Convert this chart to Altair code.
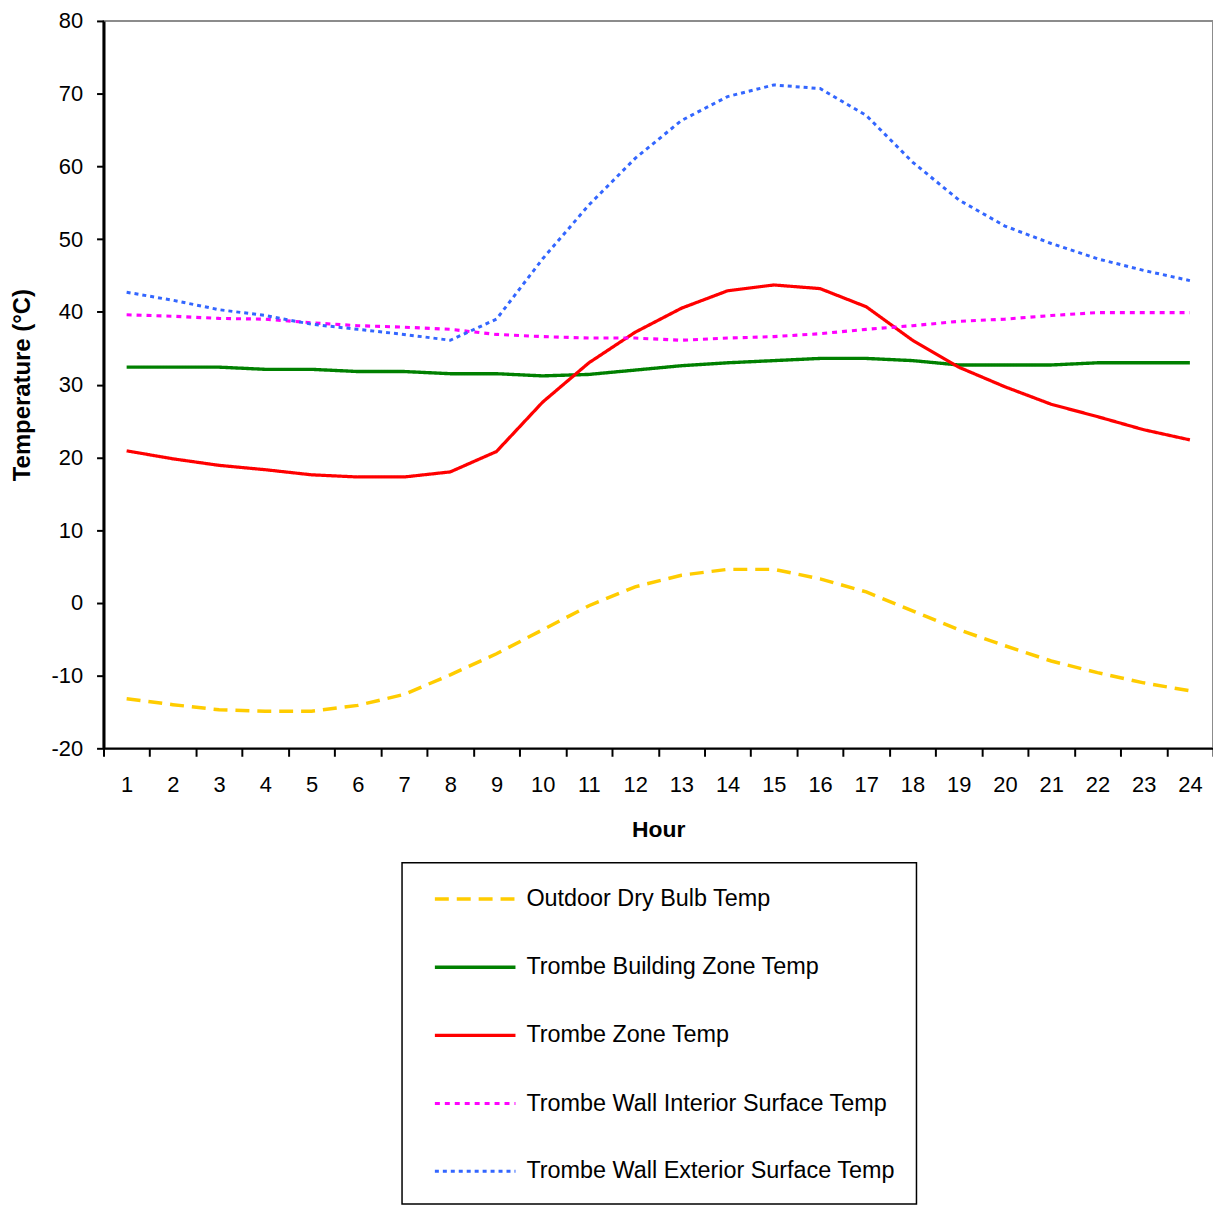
import altair as alt
import pandas as pd

hours = list(range(1, 25))
series_names = [
    "Outdoor Dry Bulb Temp",
    "Trombe Building Zone Temp",
    "Trombe Zone Temp",
    "Trombe Wall Interior Surface Temp",
    "Trombe Wall Exterior Surface Temp",
]
outdoor = [-13.2, -14.0, -14.7, -14.9, -14.9, -14.1, -12.6, -9.9, -7.0, -3.7, -0.4, 2.2,
           3.8, 4.6, 4.6, 3.3, 1.5, -1.1, -3.7, -5.9, -8.0, -9.6, -11.0, -12.1]
building = [32.4, 32.4, 32.4, 32.1, 32.1, 31.8, 31.8, 31.5, 31.5, 31.2, 31.4, 32.0,
            32.6, 33.0, 33.3, 33.6, 33.6, 33.3, 32.7, 32.7, 32.7, 33.0, 33.0, 33.0]
zone = [20.9, 19.8, 18.9, 18.3, 17.6, 17.3, 17.3, 18.0, 20.8, 27.6, 33.0, 37.2,
        40.5, 42.9, 43.7, 43.2, 40.7, 36.1, 32.4, 29.7, 27.3, 25.6, 23.8, 22.4]
interior = [39.6, 39.4, 39.1, 39.0, 38.5, 38.1, 37.9, 37.6, 36.9, 36.6, 36.4, 36.4,
            36.1, 36.4, 36.6, 37.0, 37.6, 38.1, 38.7, 39.0, 39.5, 39.9, 39.9, 39.9]
exterior = [42.7, 41.6, 40.3, 39.5, 38.3, 37.6, 36.9, 36.1, 39.0, 47.3, 54.7, 61.1,
            66.3, 69.6, 71.2, 70.7, 67.0, 60.6, 55.4, 51.8, 49.4, 47.3, 45.7, 44.3]

colors = ["#FFCC00", "#008000", "#FF0000", "#FF00FF", "#3366FF"]
dashes = [[14, 8], [1, 0], [1, 0], [5, 5], [4, 4]]
widths = [3.5, 3, 3, 3, 3.5]

rows = []
for name, vals in zip(series_names, [outdoor, building, zone, interior, exterior]):
    for h, v in zip(hours, vals):
        rows.append({"Hour": h, "Temp": v, "Series": name})
df = pd.DataFrame(rows)

legend = alt.Legend(
    title=None,
    orient="none",
    legendX=300,
    legendY=846,
    direction="vertical",
    strokeColor="black",
    fillColor="white",
    padding=21,
    rowPadding=41.5,
    symbolType="M-3,0H3",
    symbolSize=729,
    symbolOffset=37,
    labelOffset=36,
    labelFontSize=23.5,
    labelFont="Liberation Sans",
    labelColor="black",
    labelLimit=600,
)

chart = alt.Chart(df).mark_line().encode(
    x=alt.X(
        "Hour:O",
        bandPosition=0.5,
        scale=alt.Scale(type="band", paddingInner=0, paddingOuter=0),
        axis=alt.Axis(
            title="Hour",
            labelAngle=0,
            tickBand="extent",
            labelFontSize=22,
            labelFont="Liberation Sans",
            labelColor="black",
            labelPadding=18,
            titleFontSize=23,
            titleFont="Liberation Sans",
            titleFontWeight="bold",
            titleColor="black",
            titlePadding=24,
            domainColor="black",
            domainWidth=2,
            tickColor="black",
            tickWidth=2,
            tickSize=8,
            grid=False,
        ),
    ),
    y=alt.Y(
        "Temp:Q",
        scale=alt.Scale(domain=[-20, 80], nice=False, zero=False),
        axis=alt.Axis(
            title="Temperature (°C)",
            values=list(range(-20, 81, 10)),
            labelExpr="'' + datum.value",
            labelFontSize=22,
            labelFont="Liberation Sans",
            labelColor="black",
            labelPadding=14,
            titleFontSize=24,
            titleFont="Liberation Sans",
            titleFontWeight="bold",
            titleColor="black",
            titlePadding=17,
            domainColor="black",
            domainWidth=3,
            tickColor="black",
            tickWidth=2,
            tickSize=7,
            grid=False,
        ),
    ),
    color=alt.Color("Series:N", scale=alt.Scale(domain=series_names, range=colors), legend=legend),
    strokeDash=alt.StrokeDash("Series:N", scale=alt.Scale(domain=series_names, range=dashes), legend=legend),
    strokeWidth=alt.StrokeWidth("Series:N", scale=alt.Scale(domain=series_names, range=widths), legend=legend),
).properties(
    width=1115,
    height=731,
    padding={"left": 96, "top": 10, "right": 0, "bottom": 460},
    autosize=alt.AutoSizeParams(type="none"),
).configure_view(
    stroke="#8C8C8C",
    strokeWidth=2,
).configure_legend(
    strokeWidth=1.5,
)

chart.save("out.html", embed_options={"renderer": "svg", "actions": False})
